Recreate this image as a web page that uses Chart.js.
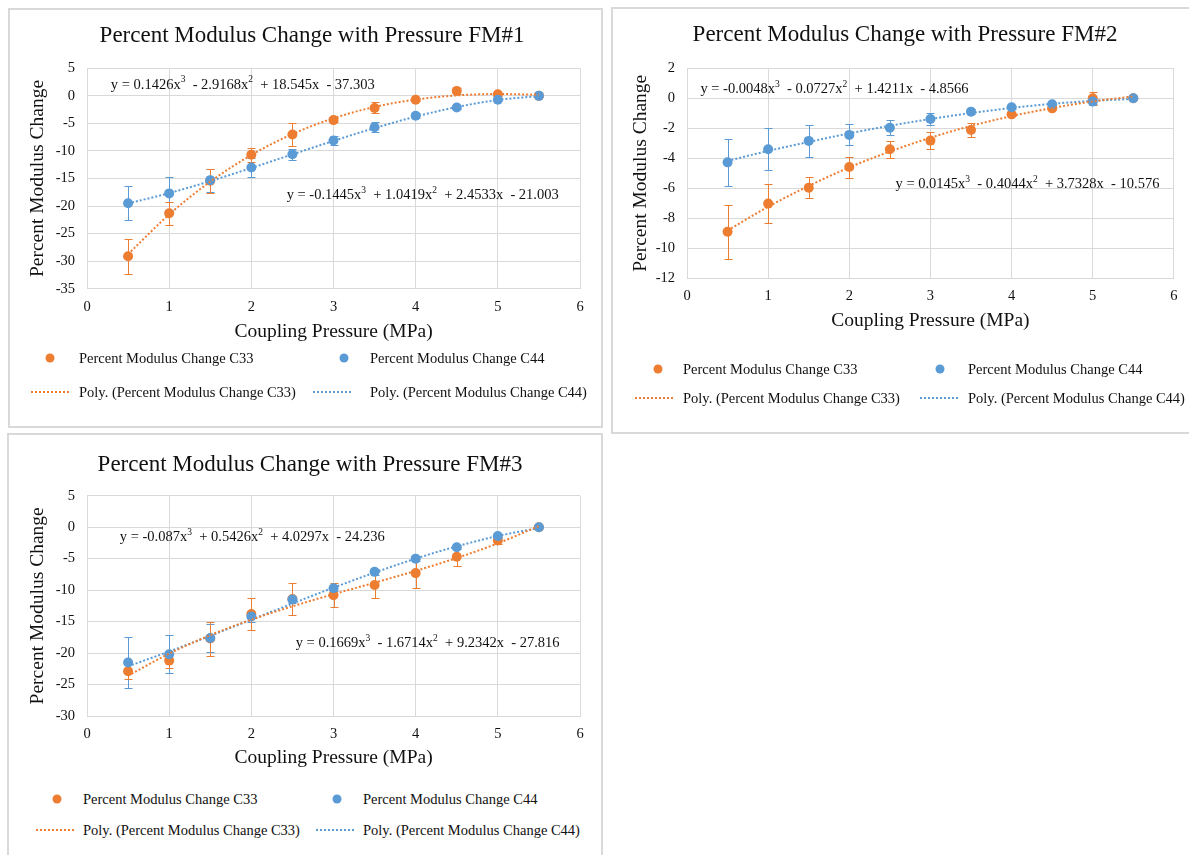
<!DOCTYPE html>
<html>
<head>
<meta charset="utf-8">
<script src="https://cdn.jsdelivr.net/npm/chart.js@4.4.1/dist/chart.umd.min.js"></script>
<style>
  body { margin: 0; background: #fff; width: 1189px; height: 855px; overflow: hidden; position: relative; font-family: "Liberation Serif", "Times New Roman", serif; }
  .panel { position: absolute; border: 2px solid #d9d9d9; box-sizing: border-box; background: #fff; }
  .panel canvas { position: absolute; left: 0; top: 0; }
  .leg { position: absolute; font-size: 14.5px; color: #111; white-space: nowrap; line-height: 1; transform: translateY(-50%); }
  .dot { position: absolute; width: 9px; height: 9px; border-radius: 50%; transform: translate(-50%, -50%); }
  .dash { position: absolute; height: 2px; width: 40px; transform: translateY(-50%); }
</style>
</head>
<body>
<div class="panel" style="left:8px;top:8px;width:595px;height:420px;"><canvas id="fm1" width="590" height="340"></canvas></div>
<div class="panel" style="left:611px;top:7px;width:600px;height:427px;"><canvas id="fm2" width="574" height="335"></canvas></div>
<div class="panel" style="left:7px;top:433px;width:596px;height:440px;"><canvas id="fm3" width="591" height="340"></canvas></div>
<div id="legends"></div>

<script>
// x values (coupling pressure, MPa) shared by all three charts
const pressure = [0.5, 1, 1.5, 2, 2.5, 3, 3.5, 4, 4.5, 5, 5.5];
const xTicks = [0, 1, 2, 3, 4, 5, 6];

// FM#1
const fm1C33 = [-29.1, -21.3, -15.4, -10.7, -7.0, -4.4, -2.2, -0.7, 0.9, 0.3, 0];
const fm1C33Err = [3.2, 2.1, 2.2, 1.3, 2.1, 0.4, 1.0, 0.3, 0.5, 0.3, 0];
const fm1C44 = [-19.5, -17.7, -15.3, -13.0, -10.6, -8.1, -5.7, -3.6, -2.1, -0.7, 0];
const fm1C44Err = [3.1, 3.0, 2.1, 1.8, 1.0, 0.9, 0.9, 0.4, 0.3, 0.3, 0];
const fm1Trend33 = [-28.74, -21.53, -15.57, -10.74, -6.94, -4.07, -2.01, -0.67, 0.08, 0.33, 0.19];
const fm1Trend44 = [-19.53, -17.65, -15.47, -13.09, -10.62, -8.17, -5.85, -3.77, -2.03, -0.75, -0.03];
const fm1Eq33 = [0.1426, -2.9168, 18.545, -37.303];
const fm1Eq44 = [-0.1445, 1.0419, 2.4533, -21.003];
const fm1YTicks = [-35, -30, -25, -20, -15, -10, -5, 0, 5];

// FM#2
const fm2C33 = [-8.9, -7.02, -5.96, -4.58, -3.4, -2.82, -2.11, -1.07, -0.67, 0.0, 0];
const fm2C33Err = [1.8, 1.3, 0.7, 0.7, 0.55, 0.57, 0.45, 0.1, 0.1, 0.45, 0];
const fm2C44 = [-4.27, -3.4, -2.84, -2.44, -1.96, -1.38, -0.89, -0.6, -0.4, -0.22, 0];
const fm2C44Err = [1.55, 1.4, 1.05, 0.7, 0.5, 0.43, 0.15, 0.1, 0.1, 0.15, 0];
const fm2Trend33 = [-8.81, -7.23, -5.84, -4.61, -3.55, -2.63, -1.84, -1.19, -0.65, -0.21, 0.13];
const fm2Trend44 = [-4.17, -3.51, -2.91, -2.34, -1.83, -1.38, -0.98, -0.64, -0.37, -0.17, -0.04];
const fm2Eq33 = [0.0145, -0.4044, 3.7328, -10.576];
const fm2Eq44 = [-0.0048, -0.0727, 1.4211, -4.8566];
const fm2YTicks = [-12, -10, -8, -6, -4, -2, 0, 2];

// FM#3
const fm3C33 = [-22.9, -21.2, -17.7, -13.8, -11.4, -10.8, -9.2, -7.3, -4.7, -2.1, 0];
const fm3C33Err = [1.3, 1.1, 2.7, 2.5, 2.6, 1.9, 2.1, 2.3, 1.5, 0.5, 0];
const fm3C44 = [-21.5, -20.2, -17.6, -14.2, -11.5, -9.7, -7.1, -5.0, -3.2, -1.4, 0];
const fm3C44Err = [4.1, 3.0, 2.2, 0.8, 0.6, 0.4, 0.5, 0.3, 0.3, 0.3, 0];
const fm3Trend33 = [-23.60, -20.09, -17.16, -14.70, -12.57, -10.65, -8.82, -6.94, -4.90, -2.57, 0.18];
const fm3Trend44 = [-22.10, -19.75, -17.26, -14.70, -12.13, -9.61, -7.22, -5.00, -3.04, -1.40, -0.13];
const fm3Eq33 = [0.1669, -1.6714, 9.2342, -27.816];
const fm3Eq44 = [-0.087, 0.5426, 4.0297, -24.236];
const fm3YTicks = [-30, -25, -20, -15, -10, -5, 0, 5];

const ORANGE = '#ED7D31';
const BLUE = '#5B9BD5';
const GRID = '#d9d9d9';
const TEXT = '#111';
const SERIF = '"Liberation Serif", "Times New Roman", serif';

const errorBarPlugin = {
  id: 'errorBars',
  beforeDatasetsDraw(chart) {
    const ctx = chart.ctx;
    const y = chart.scales.y;
    chart.data.datasets.forEach((ds, i) => {
      if (!ds.errors) return;
      const meta = chart.getDatasetMeta(i);
      ctx.save();
      ctx.strokeStyle = ds.backgroundColor;
      ctx.lineWidth = 1;
      meta.data.forEach((pt, j) => {
        const e = ds.errors[j];
        if (!e) return;
        const v = ds.data[j].y;
        const top = Math.round(y.getPixelForValue(v + e)) + 0.5;
        const bot = Math.round(y.getPixelForValue(v - e)) + 0.5;
        const x = Math.round(pt.x) + 0.5;
        ctx.beginPath();
        ctx.moveTo(x, top); ctx.lineTo(x, bot);
        ctx.moveTo(x - 4, top); ctx.lineTo(x + 4, top);
        ctx.moveTo(x - 4, bot); ctx.lineTo(x + 4, bot);
        ctx.stroke();
      });
      ctx.restore();
    });
  }
};

function eqParts(c) {
  const term = (v) => ' ' + (v < 0 ? '-' : '+') + ' ' + Math.abs(v);
  return [
    ['y = ' + c[0] + 'x', false], ['3', true],
    [' ' + term(c[1]) + 'x', false], ['2', true],
    [' ' + term(c[2]) + 'x', false],
    [' ' + term(c[3]), false]
  ];
}

const equationPlugin = {
  id: 'equations',
  afterDatasetsDraw(chart, args, opts) {
    const ctx = chart.ctx;
    const { x: xs, y: ys } = chart.scales;
    (opts.items || []).forEach(item => {
      let px = xs.getPixelForValue(item.x);
      const py = ys.getPixelForValue(item.y);
      ctx.save();
      ctx.fillStyle = TEXT;
      ctx.textBaseline = 'middle';
      ctx.textAlign = 'left';
      eqParts(item.coef).forEach(([s, sup]) => {
        ctx.font = (sup ? '9.5px ' : '14.5px ') + SERIF;
        ctx.fillText(s, px, sup ? py - 5 : py);
        px += ctx.measureText(s).width;
      });
      ctx.restore();
    });
  }
};

function makeChart(id, d, L) {
  const pts = (ys) => pressure.map((x, i) => ({ x, y: ys[i] }));
  const lh = 1.2;
  const tickFont = { family: SERIF, size: 14.5 };
  const axisTitleFont = { family: SERIF, size: 19.5, lineHeight: lh };
  const trend = (label, data, color, order) => ({
    label, data: pts(data), showLine: true, borderColor: color, borderWidth: 2,
    borderDash: [2, 2], pointRadius: 0, cubicInterpolationMode: 'monotone', fill: false, order
  });
  const marks = (label, data, err, color, order) => ({
    label, data: pts(data), errors: err, backgroundColor: color, borderColor: color,
    pointRadius: 5, pointBorderWidth: 0, showLine: false, order
  });
  return new Chart(document.getElementById(id), {
    type: 'scatter',
    data: {
      datasets: [
        trend('Poly. (Percent Modulus Change C33)', d.trend33, ORANGE, 0),
        trend('Poly. (Percent Modulus Change C44)', d.trend44, BLUE, 1),
        marks('Percent Modulus Change C44', d.c44, d.c44Err, BLUE, 2),
        marks('Percent Modulus Change C33', d.c33, d.c33Err, ORANGE, 3)
      ]
    },
    options: {
      responsive: false,
      animation: false,
      devicePixelRatio: 1,
      layout: { padding: { left: L.padLeft, right: L.w - L.plotRight, top: 0, bottom: 0 } },
      plugins: {
        legend: { display: false },
        tooltip: { enabled: false },
        title: {
          display: true, text: d.title, color: TEXT,
          font: { family: SERIF, size: 23, weight: 'normal', lineHeight: lh },
          padding: { top: L.titleY - 23 * lh / 2, bottom: L.plotTop - L.titleY - 23 * lh / 2 }
        },
        equations: { items: d.equations }
      },
      scales: {
        x: {
          type: 'linear', min: xTicks[0], max: xTicks[xTicks.length - 1],
          ticks: { stepSize: 1, padding: 9.5, color: TEXT, font: tickFont },
          grid: { color: GRID, drawTicks: false },
          border: { color: GRID },
          title: {
            display: true, text: 'Coupling Pressure (MPa)', color: TEXT, font: axisTitleFont,
            padding: { top: 0, bottom: L.h - L.xTitleY - 19.5 * lh / 2 }
          },
          afterFit: s => { s.height = L.h - L.plotBottom; }
        },
        y: {
          type: 'linear', min: d.yTicks[0], max: d.yTicks[d.yTicks.length - 1],
          ticks: { stepSize: d.yTicks[1] - d.yTicks[0], padding: 12, color: TEXT, font: tickFont },
          grid: { color: GRID, drawTicks: false },
          border: { color: GRID },
          title: {
            display: true, text: 'Percent Modulus Change', color: TEXT, font: axisTitleFont,
            padding: { top: L.yTitleX - L.padLeft - 19.5 * lh / 2, bottom: 0 }
          },
          afterFit: s => { s.width = L.plotLeft - L.padLeft; }
        }
      }
    },
    plugins: [errorBarPlugin, equationPlugin]
  });
}

makeChart('fm1', {
  title: 'Percent Modulus Change with Pressure FM#1',
  c33: fm1C33, c33Err: fm1C33Err, c44: fm1C44, c44Err: fm1C44Err,
  trend33: fm1Trend33, trend44: fm1Trend44, yTicks: fm1YTicks,
  equations: [{ coef: fm1Eq33, x: 0.29, y: 2.0 }, { coef: fm1Eq44, x: 2.43, y: -18.1 }]
}, { w: 590, h: 340, padLeft: 34, plotLeft: 77, plotRight: 570, plotTop: 58.3, plotBottom: 278.7, titleY: 26, xTitleY: 321.7, yTitleX: 28 });

makeChart('fm2', {
  title: 'Percent Modulus Change with Pressure FM#2',
  c33: fm2C33, c33Err: fm2C33Err, c44: fm2C44, c44Err: fm2C44Err,
  trend33: fm2Trend33, trend44: fm2Trend44, yTicks: fm2YTicks,
  equations: [{ coef: fm2Eq44, x: 0.165, y: 0.62 }, { coef: fm2Eq33, x: 2.57, y: -5.73 }]
}, { w: 574, h: 335, padLeft: 22, plotLeft: 74, plotRight: 562, plotTop: 59.3, plotBottom: 269.3, titleY: 26, xTitleY: 312, yTitleX: 28 });

makeChart('fm3', {
  title: 'Percent Modulus Change with Pressure FM#3',
  c33: fm3C33, c33Err: fm3C33Err, c44: fm3C44, c44Err: fm3C44Err,
  trend33: fm3Trend33, trend44: fm3Trend44, yTicks: fm3YTicks,
  equations: [{ coef: fm3Eq44, x: 0.40, y: -1.67 }, { coef: fm3Eq33, x: 2.54, y: -18.5 }]
}, { w: 591, h: 340, padLeft: 31, plotLeft: 78, plotRight: 571, plotTop: 60.7, plotBottom: 281, titleY: 30, xTitleY: 323, yTitleX: 29 });

// HTML legends, page coordinates
const legendRows = [
  { rows: [358, 392], dotX: [50, 344], lineX: [31, 313], textX: [79, 370] },
  { rows: [369, 398], dotX: [658, 940], lineX: [635, 920], textX: [683, 968] },
  { rows: [799, 830], dotX: [57, 337], lineX: [36, 316], textX: [83, 363] }
];
const legendLabels = ['Percent Modulus Change C33', 'Percent Modulus Change C44'];
const host = document.getElementById('legends');
legendRows.forEach(g => {
  [ORANGE, BLUE].forEach((color, k) => {
    const dot = document.createElement('div');
    dot.className = 'dot';
    dot.style.cssText = `left:${g.dotX[k]}px;top:${g.rows[0]}px;background:${color};`;
    host.appendChild(dot);
    const t1 = document.createElement('div');
    t1.className = 'leg';
    t1.style.cssText = `left:${g.textX[k]}px;top:${g.rows[0]}px;`;
    t1.textContent = legendLabels[k];
    host.appendChild(t1);
    const dash = document.createElement('div');
    dash.className = 'dash';
    dash.style.cssText = `left:${g.lineX[k]}px;top:${g.rows[1]}px;background:repeating-linear-gradient(90deg, ${color} 0 2px, transparent 2px 4px);`;
    host.appendChild(dash);
    const t2 = document.createElement('div');
    t2.className = 'leg';
    t2.style.cssText = `left:${g.textX[k]}px;top:${g.rows[1]}px;`;
    t2.textContent = 'Poly. (' + legendLabels[k] + ')';
    host.appendChild(t2);
  });
});
</script>
</body>
</html>
